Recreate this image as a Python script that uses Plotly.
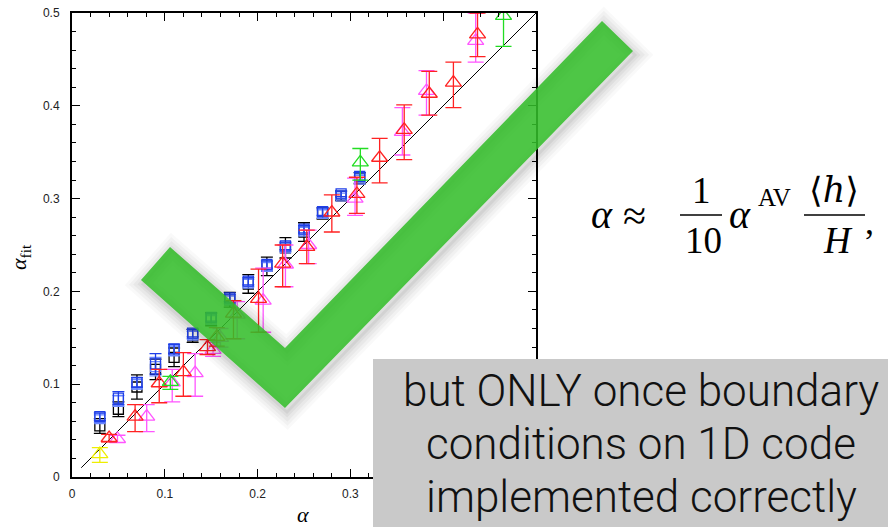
import plotly.graph_objects as go

# ---------------- data ----------------
sq_x = [0.03, 0.05, 0.07, 0.09, 0.11, 0.13, 0.15, 0.17, 0.19, 0.21, 0.23, 0.25, 0.27, 0.29, 0.31]
black_y = [0.055, 0.073, 0.097, 0.116, 0.129, 0.152, 0.170, 0.191, 0.208, 0.227, 0.247, 0.264, 0.284, 0.303, 0.322]
black_err = [0.008, 0.008, 0.013, 0.011, 0.010, 0.007, 0.007, 0.008, 0.010, 0.010, 0.011, 0.010, 0.006, 0.005, 0.006]
blue_y = [0.065, 0.085, 0.102, 0.122, 0.138, 0.155, 0.172, 0.193, 0.211, 0.229, 0.249, 0.267, 0.286, 0.305, 0.324]
blue_err = [0.004, 0.007, 0.005, 0.011, 0.005, 0.004, 0.004, 0.004, 0.004, 0.004, 0.004, 0.004, 0.004, 0.003, 0.004]
blue2_y = [0.063, 0.082, 0.100, 0.119, 0.136, 0.153, 0.170, 0.191, 0.209, 0.227, 0.247, 0.265, 0.284, 0.303, 0.321]
blue2_err = [0.004, 0.006, 0.005, 0.010, 0.005, 0.004, 0.004, 0.004, 0.004, 0.004, 0.004, 0.004, 0.004, 0.003, 0.004]

red_x = [0.040, 0.068, 0.094, 0.120, 0.146, 0.156, 0.174, 0.201, 0.227, 0.253, 0.280, 0.307, 0.3315, 0.358, 0.385, 0.411, 0.437]
red_y = [0.042, 0.065, 0.101, 0.113, 0.140, 0.151, 0.176, 0.192, 0.230, 0.248, 0.285, 0.305, 0.344, 0.374, 0.413, 0.425, 0.477]
red_ep = [0.004, 0.013, 0.015, 0.021, 0.008, 0.010, 0.014, 0.032, 0.020, 0.018, 0.019, 0.018, 0.021, 0.027, 0.024, 0.022, 0.023]
red_em = [0.004, 0.016, 0.021, 0.026, 0.008, 0.010, 0.027, 0.036, 0.025, 0.018, 0.021, 0.021, 0.027, 0.032, 0.023, 0.027, 0.024]

mag_x = [0.049, 0.0805, 0.108, 0.1327, 0.152, 0.160, 0.178, 0.206, 0.230, 0.255, 0.305, 0.356, 0.382, 0.435]
mag_y = [0.041, 0.065, 0.102, 0.112, 0.137, 0.150, 0.175, 0.190, 0.229, 0.250, 0.300, 0.372, 0.416, 0.470]
mag_ep = [0.004, 0.013, 0.014, 0.021, 0.008, 0.010, 0.014, 0.035, 0.021, 0.016, 0.022, 0.026, 0.022, 0.030]
mag_em = [0.004, 0.016, 0.021, 0.025, 0.007, 0.010, 0.026, 0.034, 0.024, 0.020, 0.018, 0.025, 0.026, 0.023]

grn_x = [0.106, 0.3107, 0.465]
grn_y = [0.1025, 0.339, 0.497]
grn_ep = [0.006, 0.015, 0.020]
grn_em = [0.008, 0.019, 0.033]

yel_x = [0.030]
yel_y = [0.0247]
yel_ep = [0.007]
yel_em = [0.009]

line_x = [0.01, 0.5]
line_y = [0.01, 0.5]

x_ticks = [0, 0.1, 0.2, 0.3, 0.4, 0.5]
y_ticks = [0, 0.1, 0.2, 0.3, 0.4, 0.5]

box_lines = ["but ONLY once boundary", "conditions on 1D code", "implemented correctly"]

# ---------------- figure ----------------
W, H = 888, 527
L, R, T, B = 72, 352, 13, 50
PW, PH = W - L - R, H - T - B


def px(X, Y):
    return ((X - L) / PW, (H - B - Y) / PH)


fig = go.Figure()

fig.add_trace(go.Scatter(x=line_x, y=line_y, mode="lines",
                         line=dict(color="black", width=1), showlegend=False))


def add_series(x, y, ep, em, color, symbol, size, capw):
    fig.add_trace(go.Scatter(
        x=x, y=y, mode="markers", showlegend=False,
        marker=dict(symbol=symbol, size=size, color=color,
                    line=dict(color=color, width=1.3)),
        error_y=dict(type="data", symmetric=False, array=ep, arrayminus=em,
                     color=color, thickness=1.3, width=capw)))


add_series(sq_x, black_y, black_err, black_err, "black", "square-open", 10, 6)
add_series(sq_x, blue2_y, blue2_err, blue2_err, "#6a86ff", "square-open", 10, 6)
add_series(sq_x, blue_y, blue_err, blue_err, "#1f3fe8", "square-open", 10, 6)
add_series(mag_x, mag_y, mag_ep, mag_em, "#ff55ff", "triangle-up-open", 14, 8)
add_series(red_x, red_y, red_ep, red_em, "#ff2222", "triangle-up-open", 14, 8)
add_series(grn_x, grn_y, grn_ep, grn_em, "#22dd22", "triangle-up-open", 14, 8)
add_series(yel_x, yel_y, yel_ep, yel_em, "#eeee00", "triangle-up-open", 14, 8)

axis_common = dict(
    showgrid=False, zeroline=False, showline=True, linecolor="black", linewidth=2,
    mirror="allticks", ticks="inside", ticklen=8, tickwidth=1.3, tickcolor="black",
    automargin=False,
    tickfont=dict(family="Liberation Sans, Arial, sans-serif", size=12, color="#222"),
    minor=dict(dtick=0.02, ticks="inside", ticklen=4, tickwidth=1, tickcolor="black"),
)
fig.update_xaxes(range=[0, 0.5], tickvals=x_ticks, ticklabelstandoff=5, **axis_common)
fig.update_yaxes(range=[0, 0.5], tickvals=y_ticks, ticklabelstandoff=8, **axis_common)

shapes = []

# check mark (decoration), in pixel space -> paper
check_px = [(141, 280), (170, 247), (285, 348), (602, 21), (633, 51), (285, 408)]


def path_from(pts, dx=0, dy=0):
    s = ""
    for i, (X, Y) in enumerate(pts):
        a, b = px(X + dx, Y + dy)
        s += ("M" if i == 0 else "L") + f"{a:.5f},{b:.5f} "
    return s + "Z"


for w, op in [(26, 0.025), (20, 0.03), (14, 0.035), (8, 0.04), (3, 0.05)]:
    shapes.append(dict(type="path", xref="paper", yref="paper", layer="above",
                       path=path_from(check_px, 2, 4),
                       fillcolor="rgba(0,0,0,0)",
                       line=dict(color=f"rgba(0,0,0,{op})", width=w)))
shapes.append(dict(type="path", xref="paper", yref="paper", layer="above",
                   path=path_from(check_px), fillcolor="rgb(52,190,42)",
                   opacity=0.87, line=dict(width=0)))

# gray box
bx0, by0 = px(373, 359)
bx1, by1 = px(888, 527)
shapes.append(dict(type="rect", xref="paper", yref="paper", layer="above",
                   x0=bx0, y0=by1, x1=bx1, y1=by0, fillcolor="#c9c9c9",
                   line=dict(width=0)))

# fraction bars
for (xa, xb, yy) in [(680, 722, 215), (804, 865, 215)]:
    a0, b0 = px(xa, yy)
    a1, _ = px(xb, yy)
    shapes.append(dict(type="line", xref="paper", yref="paper", x0=a0, x1=a1,
                       y0=b0, y1=b0, line=dict(color="black", width=1.6)))

annotations = []


def ann(text, X, Y, size, family="Liberation Serif, serif", angle=0, color="black",
        weight="normal", xanchor="center"):
    a, b = px(X, Y)
    annotations.append(dict(text=text, x=a, y=b, xref="paper", yref="paper",
                            showarrow=False, xanchor=xanchor, yanchor="middle",
                            textangle=angle,
                            font=dict(family=family, size=size, color=color,
                                      weight=weight)))


# axis titles
ann("<i>α</i><sub>fit</sub>", 20, 257, 22, angle=-90)
ann("<i>α</i>", 303, 514, 22)

# formula
ann("<i>α</i>", 602, 214, 40)
ann("≈", 634, 216, 42)
ann("1", 701, 191, 37)
ann("10", 703, 240, 37)
ann("<i>α</i>", 740, 214, 40)
ann("AV", 774, 198, 25)
ann("⟨<i>h</i>⟩", 834, 190, 35, family="DejaVu Serif, serif")
ann("<i>H</i>", 838, 240, 37)
ann(",", 869, 222, 36)

# box text
for txt, yy in zip(box_lines, [391, 444, 497]):
    ann(txt, 641, yy, 44, family="Roboto, Liberation Sans, sans-serif", weight=300,
        color="#111")

fig.update_layout(
    width=W, height=H, margin=dict(l=L, r=R, t=T, b=B),
    paper_bgcolor="white", plot_bgcolor="white",
    shapes=shapes, annotations=annotations, showlegend=False,
)

fig.write_html("out.html")
